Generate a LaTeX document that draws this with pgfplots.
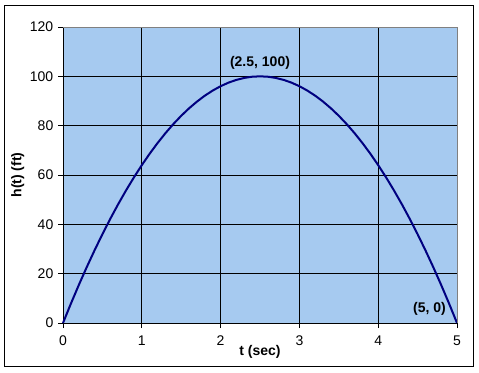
\documentclass[border=0pt]{standalone}
\usepackage{pgfplots}
\pgfplotsset{compat=1.18}
\usepackage{fontspec}
\setmainfont{Liberation Sans}
\definecolor{plotbg}{HTML}{A6CAF0}
\definecolor{navy}{HTML}{000080}
\begin{document}
\begin{tikzpicture}
\begin{axis}[
  scale only axis,
  width=295.5pt, height=222pt,
  xmin=0, xmax=5, ymin=0, ymax=120,
  xtick={0,1,2,3,4,5}, ytick={0,20,40,60,80,100,120},
  /pgf/number format/assume math mode=true,
  ticklabel style={font=\fontsize{10.5}{12}\selectfont},
  tick align=outside, major tick length=3.75pt,
  tick style={black, line width=0.6pt},
  xtick pos=bottom, ytick pos=left,
  grid=major, major grid style={black, line width=0.6pt},
  axis background/.style={fill=plotbg},
  axis line style={black, line width=0.6pt},
  xticklabel style={yshift=-2pt},
  clip=false,
]
\addplot[navy, line width=1.5pt] coordinates {
(0,0) (0.1,7.84) (0.2,15.36) (0.3,22.56) (0.4,29.44) (0.5,36) (0.6,42.24) (0.7,48.16) (0.8,53.76) (0.9,59.04)
(1.0,64) (1.1,68.64) (1.2,72.96) (1.3,76.96) (1.4,80.64) (1.5,84) (1.6,87.04) (1.7,89.76) (1.8,92.16) (1.9,94.24)
(2.0,96) (2.1,97.44) (2.2,98.56) (2.3,99.36) (2.4,99.84) (2.5,100) (2.6,99.84) (2.7,99.36) (2.8,98.56) (2.9,97.44)
(3.0,96) (3.1,94.24) (3.2,92.16) (3.3,89.76) (3.4,87.04) (3.5,84) (3.6,80.64) (3.7,76.96) (3.8,72.96) (3.9,68.64)
(4.0,64) (4.1,59.04) (4.2,53.76) (4.3,48.16) (4.4,42.24) (4.5,36) (4.6,29.44) (4.7,22.56) (4.8,15.36) (4.9,7.84) (5.0,0)
};
\draw[gray, line width=0.6pt] (rel axis cs:0,1) -- (rel axis cs:1,1) -- (rel axis cs:1,0);
\node[font=\bfseries\fontsize{10.5}{12}\selectfont] at (axis cs:2.5,105.5) {(2.5, 100)};
\node[font=\bfseries\fontsize{10.5}{12}\selectfont] at (axis cs:4.65,5.7) {(5, 0)};
\coordinate (sw) at (rel axis cs:0,0);
\coordinate (ne) at (rel axis cs:1,1);
\coordinate (xl) at (rel axis cs:0.5,0);
\coordinate (yl) at (rel axis cs:0,0.5);
\end{axis}
\node[font=\bfseries\fontsize{10.5}{12}\selectfont] at ([yshift=-21.75pt]xl) {t (sec)};
\node[font=\bfseries\fontsize{10.5}{12}\selectfont, rotate=90] at ([xshift=-34pt]yl) {h(t) (ft)};
\pgfresetboundingbox
\useasboundingbox ([shift={(-47.25pt,-36.75pt)}]sw) rectangle ([shift={(16.5pt,20.25pt)}]ne);
\draw[black, line width=0.75pt] ([shift={(-43.5pt,-32.25pt)}]sw) rectangle ([shift={(12pt,16.5pt)}]ne);
\end{tikzpicture}
\end{document}
